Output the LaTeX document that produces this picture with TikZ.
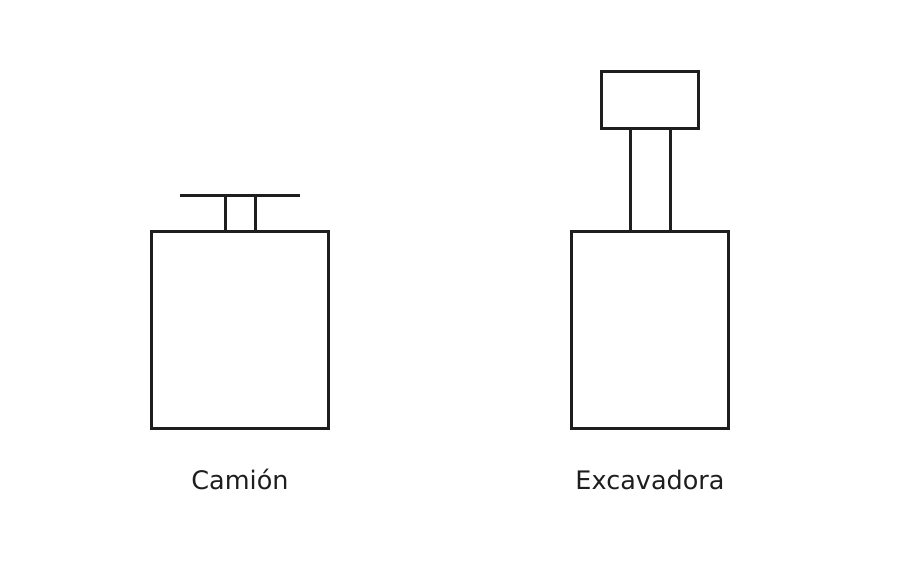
\documentclass[tikz,border=0pt]{standalone}
\usepackage{fontspec}
\setmainfont{DejaVu Sans}
\definecolor{ink}{HTML}{1E1E1E}
\begin{document}
\begin{tikzpicture}[x=1pt,y=-1pt,
  part/.style={draw=ink,line width=3pt},
  lbl/.style={text=ink,font=\fontsize{25.5}{30}\selectfont,inner sep=0pt,anchor=base}]
\useasboundingbox (0,0) rectangle (900,560);
% Camion
\draw[part] (151,231) rectangle (328,428);
\draw[part] (225,231) -- (225,195) (255,195) -- (255,231);
\draw[part] (180,195) -- (300,195);
\node[lbl] (camion) at (240,489) {Camión};
% Excavadora
\draw[part] (571,231) rectangle (728,428);
\draw[part] (630,231) -- (630,128) (670,128) -- (670,231);
\draw[part] (601,71) rectangle (698,128);
\node[lbl] (exc) at (650,489) {Excavadora};
\end{tikzpicture}
\end{document}
